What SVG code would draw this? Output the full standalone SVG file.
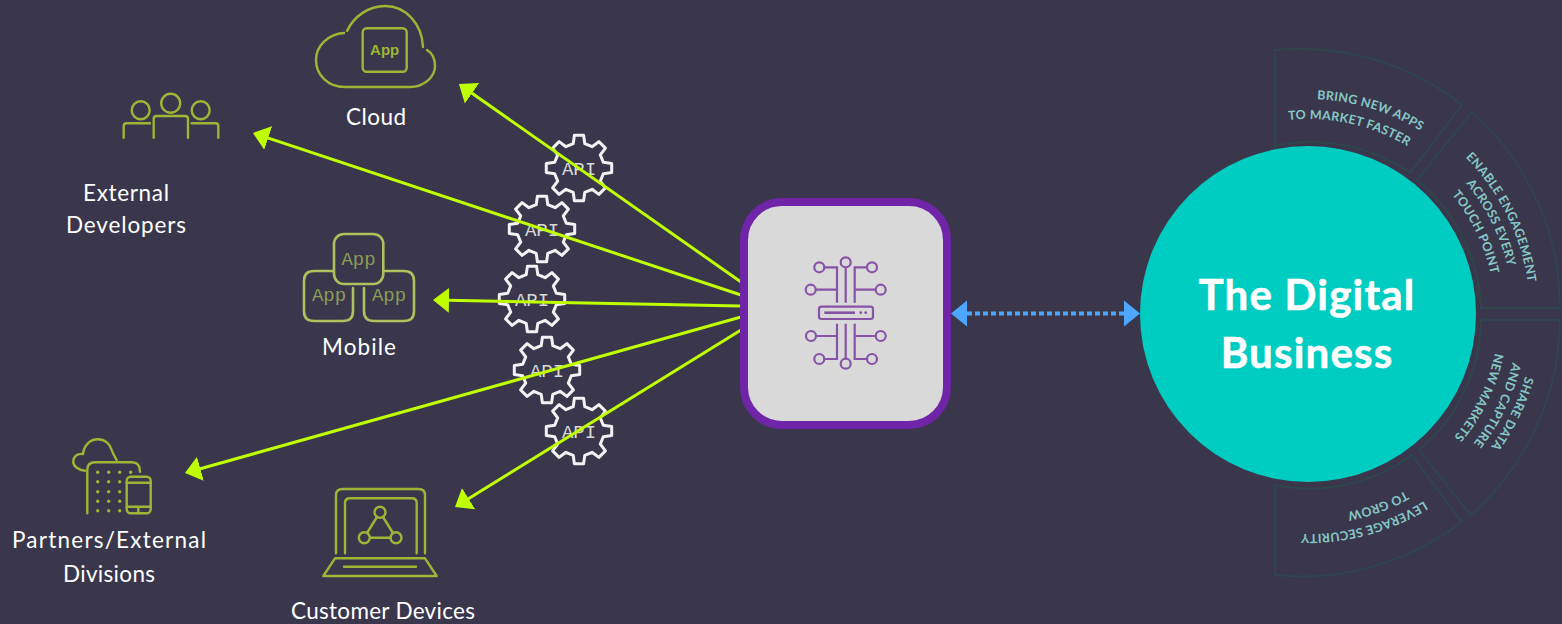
<svg xmlns="http://www.w3.org/2000/svg" width="1562" height="624" viewBox="0 0 1562 624">
<style>
.lbl{font-family:"Lato","Liberation Sans",sans-serif;font-size:22.5px;fill:#fff;text-anchor:middle}
.ico{fill:none;stroke:#9db636;stroke-width:2.4;stroke-linecap:round;stroke-linejoin:round}
.dot{fill:#9db636}
.mob{fill:none;stroke:#adc25c;stroke-width:2.6;stroke-linecap:round;stroke-linejoin:round}
.apptxt{font-family:"Liberation Mono",monospace;font-size:19px;fill:#8c9c55;text-anchor:middle}
.gear{fill:none;stroke:#f2f2f2;stroke-width:3;stroke-linejoin:round}
.apitxt{font-family:"Liberation Mono",monospace;font-size:19px;fill:#d8d8d8;text-anchor:middle}
.conn{fill:none;stroke:#bfff00;stroke-width:3;marker-end:url(#gh)}
.pu{fill:none;stroke:#8653a8;stroke-width:2.2}
.seg{fill:none;stroke:#2f474c;stroke-width:1.8}
.ring{font-family:"Lato","Liberation Sans",sans-serif;font-size:12.5px;font-weight:700;fill:#85c8c6;text-anchor:middle;letter-spacing:.3px}
.big{font-family:"Lato","Liberation Sans",sans-serif;font-size:42px;font-weight:700;fill:#fff;stroke:#fff;stroke-width:.6;text-anchor:middle;letter-spacing:1.2px}
</style>
<defs>
<marker id="gh" markerUnits="userSpaceOnUse" markerWidth="18" markerHeight="28" viewBox="0 -14 18 28" refX="14" refY="0" orient="auto"><path d="M0,-12.5L16,0L0,12.5Z" fill="#bfff00"/></marker>
<marker id="bh" markerUnits="userSpaceOnUse" markerWidth="18" markerHeight="28" viewBox="0 -14 18 28" refX="0" refY="0" orient="auto-start-reverse"><path d="M0,-13L16,0L0,13Z" fill="#4da6ff"/></marker>
<polygon id="gearshape" class="gear" points="24.3,-5.8 32.7,-4.6 32.7,4.6 24.3,5.8 21.3,13.1 26.4,19.9 19.9,26.4 13.1,21.3 5.8,24.3 4.6,32.7 -4.6,32.7 -5.8,24.3 -13.1,21.3 -19.9,26.4 -26.4,19.9 -21.3,13.1 -24.3,5.8 -32.7,4.6 -32.7,-4.6 -24.3,-5.8 -21.3,-13.1 -26.4,-19.9 -19.9,-26.4 -13.1,-21.3 -5.8,-24.3 -4.6,-32.7 4.6,-32.7 5.8,-24.3 13.1,-21.3 19.9,-26.4 26.4,-19.9 21.3,-13.1"/>
<path id="r215" d="M-152,-152A215,215 0 0 1 152,-152"/>
<path id="r195" d="M-137.9,-137.9A195,195 0 0 1 137.9,-137.9"/>
<path id="r222" d="M-157,-157A222,222 0 0 1 157,-157"/>
<path id="r205" d="M-145,-145A205,205 0 0 1 145,-145"/>
<path id="r187" d="M-132.2,-132.2A187,187 0 0 1 132.2,-132.2"/>
<path id="r226" d="M-159.8,-159.8A226,226 0 0 1 159.8,-159.8"/>
<path id="r210" d="M-148.5,-148.5A210,210 0 0 1 148.5,-148.5"/>
<path id="r191" d="M-135,-135A191,191 0 0 1 135,-135"/>
<path id="r220" d="M-155.6,-155.6A220,220 0 0 1 155.6,-155.6"/>
<path id="r202" d="M-142.8,-142.8A202,202 0 0 1 142.8,-142.8"/>
</defs>
<rect width="1562" height="624" fill="#3a374c"/>

<g id="node-cloud">
<path class="ico" d="M344,33C328,34 316,46 316,60C316,75 328,87 345,87L410,87C424,87 435,77 435,66C435,59 432,53 427,50M347,31C354,16 369,6 385,6C406,6 422,24 423,47"/>
<rect class="ico" x="362.7" y="28.3" width="44" height="43.4" rx="4"/>
<text x="384.7" y="55" font-family="Liberation Sans,sans-serif" font-size="15" font-weight="700" fill="#9db636" text-anchor="middle">App</text>
<text class="lbl" x="376" y="125" textLength="60">Cloud</text>
</g>

<g id="node-developers">
<circle class="ico" cx="140.7" cy="110.3" r="9"/>
<circle class="ico" cx="170.7" cy="103.3" r="9.5"/>
<circle class="ico" cx="200.7" cy="110.3" r="9"/>
<path class="ico" d="M123.7,137.7L123.7,126Q123.7,123.3 126.5,123.3L150,123.3M153.7,137.7L153.7,119Q153.7,116 156.7,116L185,116Q188,116 188,119L188,137.7M191.7,123.3L215.5,123.3Q218.3,123.3 218.3,126L218.3,137.7"/>
<text class="lbl" x="126" y="201" textLength="86">External</text>
<text class="lbl" x="126" y="233" textLength="120">Developers</text>
</g>

<g id="node-mobile">
<rect class="mob" x="334" y="234" width="49.3" height="50" rx="10"/>
<path class="mob" d="M333,271L314,271Q304,271 304,281L304,311Q304,321 314,321L343,321Q353,321 353,311L353,288M385,271L404,271Q414,271 414,281L414,311Q414,321 404,321L374,321Q364,321 364,311L364,288"/>
<text class="apptxt" x="358.5" y="265">App</text>
<text class="apptxt" x="329" y="301">App</text>
<text class="apptxt" x="389" y="301">App</text>
<text class="lbl" x="359" y="355" textLength="74">Mobile</text>
</g>

<g id="node-partners">
<path class="ico" d="M85,470.7C78,470 73.3,466 73.3,461.7C73.3,457 77,453 83,454C84,445 90,439.3 98,439.3C105,439.3 110,444 111.7,450C113,454 115,457 116.7,460"/>
<path class="ico" d="M87.3,513.3L87.3,470Q87.3,462.3 95,462.3L132,462.3Q140,462.3 140,471.7"/>
<g class="dot">
<circle cx="97.7" cy="472.3" r="1.7"/><circle cx="108.7" cy="472.3" r="1.7"/><circle cx="119.7" cy="472.3" r="1.7"/><circle cx="130.7" cy="472.3" r="1.7"/>
<circle cx="97.7" cy="481.7" r="1.7"/><circle cx="108.7" cy="481.7" r="1.7"/><circle cx="119.7" cy="481.7" r="1.7"/>
<circle cx="97.7" cy="491.7" r="1.7"/><circle cx="108.7" cy="491.7" r="1.7"/><circle cx="119.7" cy="491.7" r="1.7"/>
<circle cx="97.7" cy="501.3" r="1.7"/><circle cx="108.7" cy="501.3" r="1.7"/><circle cx="119.7" cy="501.3" r="1.7"/>
<circle cx="97.7" cy="510.7" r="1.7"/><circle cx="108.7" cy="510.7" r="1.7"/><circle cx="119.7" cy="510.7" r="1.7"/>
</g>
<rect class="ico" x="126.7" y="476.7" width="24" height="36.6" rx="4"/>
<path class="ico" d="M126.7,482.7L150.7,482.7M126.7,506.7L150.7,506.7M138.3,506.7L138.3,513.3"/>
<text class="lbl" x="109" y="548" textLength="194">Partners/External</text>
<text class="lbl" x="109" y="582" textLength="92">Divisions</text>
</g>

<g id="node-devices">
<path class="ico" d="M336,553.3L336,495Q336,489 343,489L418.3,489Q425,489 425,495L425,553.3M345,553.3L345,503Q345,498.3 350,498.3L411.7,498.3Q416.7,498.3 416.7,503L416.7,553.3"/>
<path class="ico" d="M323.3,576L335,558.3L425,558.3L436.7,576ZM344,566.7L416,566.7"/>
<circle class="ico" cx="380" cy="512.3" r="5.5"/>
<circle class="ico" cx="364.3" cy="537.7" r="5.5"/>
<circle class="ico" cx="396" cy="537.7" r="5.5"/>
<path class="ico" d="M377,517L367,533M383,517L393,533M370,537.7L390.5,537.7"/>
<text class="lbl" x="383" y="619" textLength="184">Customer Devices</text>
</g>

<g id="node-gears">
<g id="gear-1" transform="translate(579 168)"><use href="#gearshape"/><text class="apitxt" y="7">API</text></g>
<g id="gear-2" transform="translate(542 229)"><use href="#gearshape"/><text class="apitxt" y="7">API</text></g>
<g id="gear-3" transform="translate(532 299)"><use href="#gearshape"/><text class="apitxt" y="7">API</text></g>
<g id="gear-4" transform="translate(547 370)"><use href="#gearshape"/><text class="apitxt" y="7">API</text></g>
<g id="gear-5" transform="translate(579 431)"><use href="#gearshape"/><text class="apitxt" y="7">API</text></g>
</g>

<g id="connectors">
<line class="conn" x1="741" y1="282" x2="460.6" y2="85.2"/>
<line class="conn" x1="741" y1="295" x2="254.9" y2="133.6"/>
<line class="conn" x1="741" y1="306" x2="435" y2="300"/>
<line class="conn" x1="741" y1="317" x2="186.9" y2="472.5"/>
<line class="conn" x1="741" y1="330" x2="456.7" y2="506"/>
<line x1="967" y1="313.5" x2="1124" y2="313.5" stroke="#4da6ff" stroke-width="4" stroke-dasharray="5 3" marker-start="url(#bh)" marker-end="url(#bh)"/>
</g>

<g id="node-gateway">
<rect x="744" y="202" width="203" height="223" rx="38" fill="#d9d9d9" stroke="#7025a8" stroke-width="8"/>
<g class="pu">
<circle cx="845.7" cy="262.3" r="5"/><circle cx="819.3" cy="267.3" r="5"/><circle cx="872" cy="267.3" r="5"/><circle cx="810.7" cy="289.7" r="5"/><circle cx="880.7" cy="289.7" r="5"/>
<circle cx="811" cy="336" r="5"/><circle cx="880.7" cy="336" r="5"/><circle cx="819.3" cy="359" r="5"/><circle cx="872" cy="359" r="5"/><circle cx="845.7" cy="363.7" r="5"/>
<path d="M845.7,267.3L845.7,302.7M837,302.7L837,267.3L824.3,267.3M854.7,302.7L854.7,267.3L867,267.3M815.7,289.7L837,289.7M875.7,289.7L854.7,289.7"/>
<path d="M845.7,358.7L845.7,323.7M837,323.7L837,359L824.3,359M854.7,323.7L854.7,359L867,359M816,336L837,336M875.7,336L854.7,336"/>
<rect x="819" y="306.7" width="54" height="12.3" rx="2.5"/>
<path d="M824.3,312.7L855,312.7" stroke-width="2.6"/>
</g>
<circle cx="860.7" cy="312.7" r="1.4" fill="#8653a8"/><circle cx="865.7" cy="312.7" r="1.4" fill="#8653a8"/>
</g>

<g id="node-digital-business">
<g id="ring-segments">
<path class="seg" d="M1275,50A262,262 0 0 1 1462,105L1410,173A172,172 0 0 0 1275,146Z"/>
<path class="seg" d="M1472,112A262,262 0 0 1 1560,308L1481,308A172,172 0 0 0 1417,180Z"/>
<path class="seg" d="M1560,320A262,262 0 0 1 1470.7,515L1419,450A172,172 0 0 0 1481,320Z"/>
<path class="seg" d="M1461.7,521.7A262,262 0 0 1 1275,575L1275,485A172,172 0 0 0 1411.7,455Z"/>
</g>
<g transform="translate(1308 314)">
<text class="ring" transform="rotate(17)"><textPath href="#r215" startOffset="50%">BRING NEW APPS</textPath></text>
<text class="ring" transform="rotate(12.5)"><textPath href="#r195" startOffset="50%">TO MARKET FASTER</textPath></text>
<text class="ring" transform="rotate(63.5)"><textPath href="#r222" startOffset="50%">ENABLE ENGAGEMENT</textPath></text>
<text class="ring" transform="rotate(63.5)"><textPath href="#r205" startOffset="50%">ACROSS EVERY</textPath></text>
<text class="ring" transform="rotate(64)"><textPath href="#r187" startOffset="50%">TOUCH POINT</textPath></text>
<text class="ring" transform="rotate(116)"><textPath href="#r226" startOffset="50%">SHARE DATA</textPath></text>
<text class="ring" transform="rotate(115.7)"><textPath href="#r210" startOffset="50%">AND CAPTURE</textPath></text>
<text class="ring" transform="rotate(116)"><textPath href="#r191" startOffset="50%">NEW MARKETS</textPath></text>
<text class="ring" transform="rotate(165)"><textPath href="#r220" startOffset="50%">LEVERAGE SECURITY</textPath></text>
<text class="ring" transform="rotate(160)"><textPath href="#r202" startOffset="50%">TO GROW</textPath></text>
</g>
<circle cx="1308" cy="314" r="168" fill="#00cdc1"/>
<text class="big" x="1307" y="310">The Digital</text>
<text class="big" x="1307" y="368">Business</text>
</g>
</svg>
